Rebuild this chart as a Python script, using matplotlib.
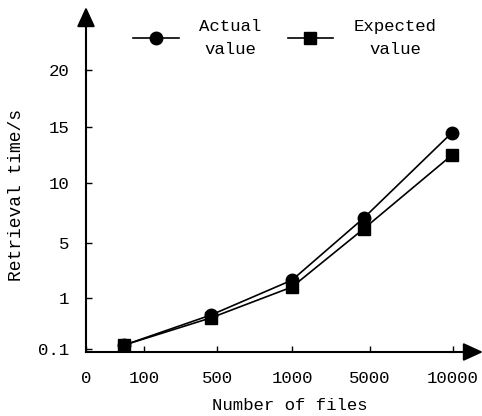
import numpy as np
from matplotlib import pyplot as plt

plt.rcParams['font.family'] = ['Liberation Mono', 'DejaVu Sans Mono']

# data
files = [66, 467, 1000, 4690, 9940]
actual = [0.17, 0.7, 2.3, 7.1, 14.5]
expected = [0.17, 0.65, 1.8, 6.2, 12.5]

x_ticks = [0, 100, 500, 1000, 5000, 10000]
y_ticks = [0.1, 1, 5, 10, 15, 20]

# the axes are not linear: ticks sit at (roughly) fixed pixel spacing
x_pos = [0, 58, 131, 206, 284, 367]
y_vals = [0] + y_ticks
y_pos = [0, 3, 54, 109, 169, 225, 282]

def fx(v):
    return np.interp(v, x_ticks, x_pos)

def fx_inv(p):
    return np.interp(p, x_pos, x_ticks)

def fy(v):
    return np.interp(v, y_vals, y_pos)

def fy_inv(p):
    return np.interp(p, y_pos, y_vals)

fig = plt.figure(figsize=(4.82, 4.16), dpi=100)
ax = fig.add_axes([86/482, 64/416, 367/482, 282/416])
ax.set_xscale('function', functions=(fx, fx_inv))
ax.set_yscale('function', functions=(fy, fy_inv))

ax.plot(files, actual, 'k-', marker='o', markersize=9, lw=1.2,
        label='Actual\nvalue', clip_on=False, zorder=3)
ax.plot(files, expected, 'k-', marker='s', markersize=9, lw=1.2,
        label='Expected\nvalue', clip_on=False, zorder=3)

ax.set_xlim(0, 10000)
ax.set_ylim(0, 20)

for s in ['top', 'right']:
    ax.spines[s].set_visible(False)
for s in ['left', 'bottom']:
    ax.spines[s].set_linewidth(1.5)

ax.set_xticks(x_ticks)
ax.set_xticklabels([str(t) for t in x_ticks])
ax.set_yticks(y_ticks)
ax.set_yticklabels(['0.1', '1', '5', '10', '15', '20'])
ax.minorticks_off()
ax.tick_params(direction='in', length=4, width=1, labelsize=12.5, pad=12)
ax.tick_params(axis='x', pad=14)

# arrow heads on the axes
ax.annotate('', xy=(397/367, 0), xytext=(0.99, 0), xycoords='axes fraction',
            arrowprops=dict(arrowstyle='-|>,head_length=1.2,head_width=0.55',
                            color='k', lw=1.5, shrinkA=0, shrinkB=0))
ax.annotate('', xy=(0, 345/282), xytext=(0, 0.99), xycoords='axes fraction',
            arrowprops=dict(arrowstyle='-|>,head_length=1.2,head_width=0.55',
                            color='k', lw=1.5, shrinkA=0, shrinkB=0))

ax.set_xlabel('Number of files', fontsize=12.5, va='top')
ax.xaxis.set_label_coords(0.556, -0.162)
ax.set_ylabel('Retrieval time/s', fontsize=13)
ax.yaxis.set_label_coords(-0.166, 0.557)

leg = ax.legend(ncol=2, frameon=False, fontsize=12.5, loc='center',
                bbox_to_anchor=(285/482, 1 - 38/416), bbox_transform=fig.transFigure,
                handlelength=2.6, handletextpad=1.2, columnspacing=1.5)
for t in leg.get_texts():
    t.set_multialignment('center')
    t.set_linespacing(1.6)

plt.savefig('out.png', dpi=100)
